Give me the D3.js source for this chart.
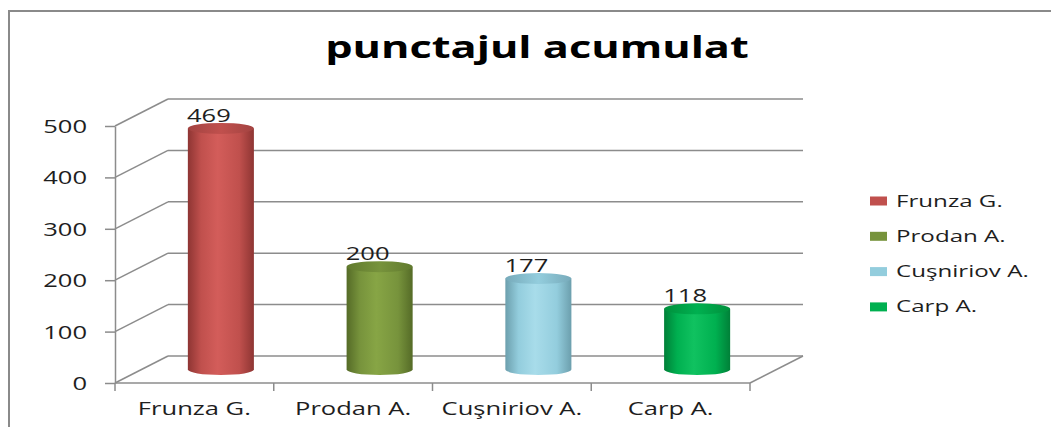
<!DOCTYPE html>
<html>
<head>
<meta charset="utf-8">
<script src="https://cdn.jsdelivr.net/npm/d3@7"></script>
<style>
  html, body { margin: 0; padding: 0; background: #fff; }
  svg { display: block; font-family: "Open Sans", sans-serif; }
</style>
</head>
<body>
<svg id="chart" width="1051" height="427"></svg>
<script>
const CATEGORIES = ['Frunza G.', 'Prodan A.', 'Cuşniriov A.', 'Carp A.'];
const VALUES = [469, 200, 177, 118];
const Y_TICKS = [0, 100, 200, 300, 400, 500];
const TITLE = 'punctajul acumulat';

// base, dark edge, highlight, top cap
const PALETTE = [
  ['#C0504D', '#8E3533', '#D35D5A', '#A34341'],
  ['#77933C', '#556B27', '#87A545', '#617A2E'],
  ['#93CDDD', '#6C9FAD', '#A8DCEA', '#77AABA'],
  ['#00B050', '#008038', '#10C260', '#00903C']
];

const SX = 1.42;           // horizontal stretch of the source image
const DEPTH = [53, -27];   // 3d offset of the back wall
const GRID = '#8c8c8c';
const INK = '#1e1e1e';

const svg = d3.select('#chart');

const x = d3.scaleBand().domain(CATEGORIES).range([115, 750]).padding(0);
const y = d3.scaleLinear().domain([0, 500]).range([383, 126]);

function stretched(sel, tx, ty) {
  sel.attr('transform', (d, i) => {
    const px = typeof tx === 'function' ? tx(d, i) : tx;
    const py = typeof ty === 'function' ? ty(d, i) : ty;
    return `translate(${px},${py}) scale(${SX},1)`;
  });
  return sel;
}

// frame
svg.append('path')
  .attr('d', 'M9,427V11H1051')
  .attr('fill', 'none')
  .attr('stroke', '#8a8a8a')
  .attr('stroke-width', 2);

// title
stretched(svg.append('text')
  .attr('text-anchor', 'middle')
  .attr('font-weight', 700)
  .attr('font-size', 30.5)
  .attr('fill', '#000')
  .text(TITLE), 537, 58);

// gradients
const defs = svg.append('defs');
PALETTE.forEach((c, i) => {
  const g = defs.append('linearGradient').attr('id', `body${i}`).attr('x1', 0).attr('x2', 1);
  g.append('stop').attr('offset', '0%').attr('stop-color', c[1]);
  g.append('stop').attr('offset', '20%').attr('stop-color', c[0]);
  g.append('stop').attr('offset', '45%').attr('stop-color', c[2]);
  g.append('stop').attr('offset', '78%').attr('stop-color', c[0]);
  g.append('stop').attr('offset', '100%').attr('stop-color', c[1]);
  const t = defs.append('linearGradient').attr('id', `cap${i}`).attr('x1', 0).attr('x2', 1);
  t.append('stop').attr('offset', '0%').attr('stop-color', c[3]);
  t.append('stop').attr('offset', '50%').attr('stop-color', c[0]);
  t.append('stop').attr('offset', '100%').attr('stop-color', c[3]);
});

const [dx, dy] = DEPTH;
const x0 = x.range()[0];
const x1 = x.range()[1];

// walls and gridlines
const grid = svg.append('g')
  .attr('fill', 'none')
  .attr('stroke', GRID)
  .attr('stroke-width', 1.5);

grid.selectAll('.back')
  .data(Y_TICKS)
  .join('line')
  .attr('x1', x0 + dx).attr('x2', x1 + dx)
  .attr('y1', (d) => y(d) + dy).attr('y2', (d) => y(d) + dy);

grid.selectAll('.side')
  .data(Y_TICKS)
  .join('line')
  .attr('x1', x0).attr('x2', x0 + dx)
  .attr('y1', (d) => y(d)).attr('y2', (d) => y(d) + dy);

// floor right edge and front edge
grid.append('line')
  .attr('x1', x1).attr('y1', y(0))
  .attr('x2', x1 + dx).attr('y2', y(0) + dy);
grid.append('line')
  .attr('x1', x0).attr('y1', y(0))
  .attr('x2', x1).attr('y2', y(0));

// y axis
const yAxis = svg.append('g')
  .attr('transform', `translate(${x0},0)`)
  .call(d3.axisLeft(y).tickValues(Y_TICKS).tickSize(10).tickSizeOuter(0));
yAxis.select('.domain').attr('stroke', GRID).attr('stroke-width', 1.5);
yAxis.selectAll('.tick line').attr('stroke', GRID).attr('stroke-width', 1.5);
yAxis.selectAll('.tick text')
  .attr('x', 0)
  .attr('dy', '0.36em')
  .attr('font-family', '"Open Sans", sans-serif')
  .attr('font-size', 18)
  .attr('fill', INK)
  .attr('transform', `translate(-28,0) scale(${SX},1)`);

// x axis ticks at band edges
const edges = CATEGORIES.map((c) => x(c)).concat([x1]);
svg.append('g')
  .selectAll('line')
  .data(edges)
  .join('line')
  .attr('x1', (d) => d).attr('x2', (d) => d)
  .attr('y1', y(0)).attr('y2', y(0) + 8)
  .attr('stroke', GRID)
  .attr('stroke-width', 1.5);

stretched(svg.append('g')
  .selectAll('text')
  .data(CATEGORIES)
  .join('text')
  .attr('text-anchor', 'middle')
  .attr('font-size', 18)
  .attr('fill', INK)
  .text((d) => d), (d) => x(d) + x.bandwidth() / 2, 415);

// cylinders
const rx = x.bandwidth() * 0.208;
const ry = 5.5;
const bars = svg.append('g')
  .selectAll('g')
  .data(CATEGORIES)
  .join('g');

function cx(i) {
  return x(CATEGORIES[i]) + x.bandwidth() / 2 + dx / 2;
}

bars.append('path')
  .attr('fill', (d, i) => `url(#body${i})`)
  .attr('d', (d, i) => {
    const c = cx(i);
    const top = y(VALUES[i]) + dy / 2;
    const bot = y(0) + dy / 2;
    return `M${c - rx},${top}L${c - rx},${bot}A${rx},${ry} 0 0 0 ${c + rx},${bot}L${c + rx},${top}Z`;
  });

bars.append('ellipse')
  .attr('cx', (d, i) => cx(i))
  .attr('cy', (d, i) => y(VALUES[i]) + dy / 2)
  .attr('rx', rx)
  .attr('ry', ry)
  .attr('fill', (d, i) => `url(#cap${i})`);

// value labels
stretched(svg.append('g')
  .selectAll('text')
  .data(VALUES)
  .join('text')
  .attr('text-anchor', 'middle')
  .attr('font-size', 18)
  .attr('fill', INK)
  .text((d) => d), (d, i) => x(CATEGORIES[i]) + x.bandwidth() / 2 + 14.5, (d) => y(d) - 20);

// legend
const legend = svg.append('g')
  .selectAll('g')
  .data(CATEGORIES)
  .join('g')
  .attr('transform', (d, i) => `translate(870,${206.5 + i * 35.3})`);

legend.append('rect')
  .attr('x', 0).attr('y', -10)
  .attr('width', 17).attr('height', 9)
  .attr('fill', (d, i) => PALETTE[i][0]);

stretched(legend.append('text')
  .attr('font-size', 17)
  .attr('fill', INK)
  .text((d) => d), 26, 0);
</script>
</body>
</html>
